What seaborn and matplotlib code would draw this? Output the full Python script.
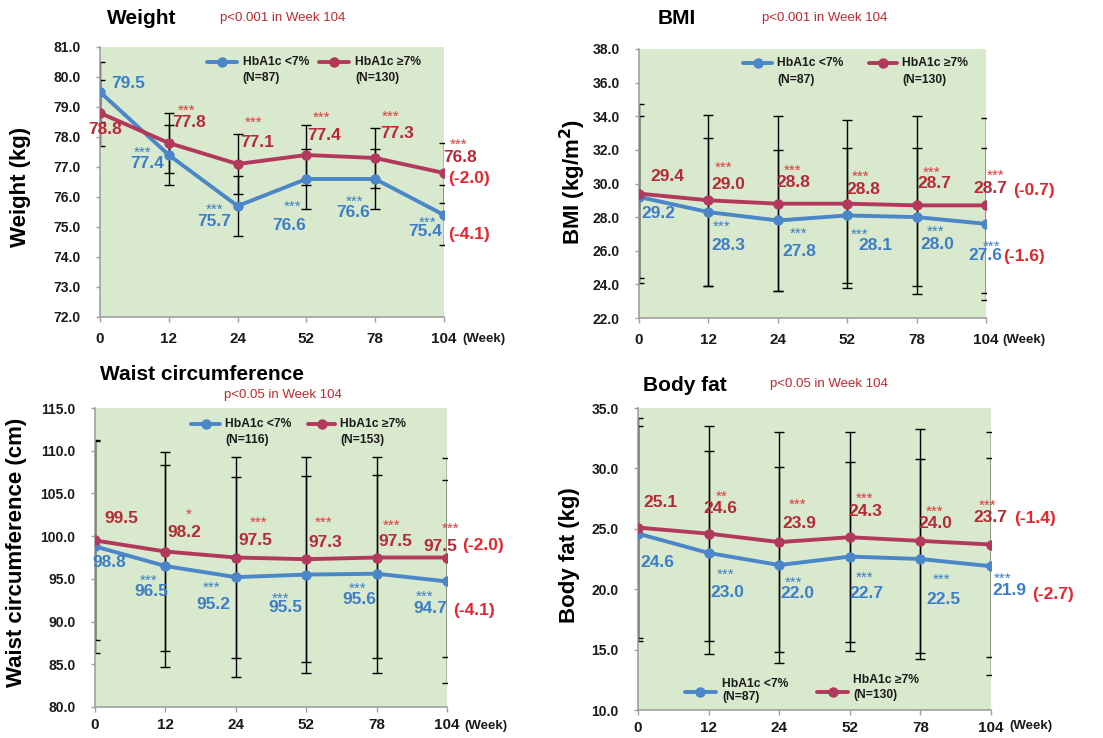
import numpy as np
import pandas as pd
import matplotlib
matplotlib.use("Agg")
import matplotlib.pyplot as plt
import seaborn as sns

sns.set_theme(style="white")
plt.rcParams['font.family'] = ['Liberation Sans', 'DejaVu Sans']

# ---------------- data ----------------
weeks = ["0", "12", "24", "52", "78", "104"]
group_lo = "HbA1c <7%"
group_hi = "HbA1c \u22657%"

weight_lo = [79.5, 77.4, 75.7, 76.6, 76.6, 75.4]
weight_hi = [78.8, 77.8, 77.1, 77.4, 77.3, 76.8]
weight_lo_err = [1.0, 1.0, 1.0, 1.0, 1.0, 1.0]
weight_hi_err = [1.1, 1.0, 1.0, 1.0, 1.0, 1.0]
weight_lo_stars = ["", "***", "***", "***", "***", "***"]
weight_hi_stars = ["", "***", "***", "***", "***", "***"]
weight_change = ["(-4.1)", "(-2.0)"]
weight_n = ["(N=87)", "(N=130)"]

bmi_lo = [29.2, 28.3, 27.8, 28.1, 28.0, 27.6]
bmi_hi = [29.4, 29.0, 28.8, 28.8, 28.7, 28.7]
bmi_lo_err = [4.8, 4.4, 4.2, 4.0, 4.1, 4.5]
bmi_hi_err = [5.3, 5.1, 5.2, 5.0, 5.3, 5.2]
bmi_lo_stars = ["", "***", "***", "***", "***", "***"]
bmi_hi_stars = ["", "***", "***", "***", "***", "***"]
bmi_change = ["(-1.6)", "(-0.7)"]
bmi_n = ["(N=87)", "(N=130)"]

waist_lo = [98.8, 96.5, 95.2, 95.5, 95.6, 94.7]
waist_hi = [99.5, 98.2, 97.5, 97.3, 97.5, 97.5]
waist_lo_err = [12.5, 11.8, 11.7, 11.5, 11.6, 11.9]
waist_hi_err = [11.6, 11.6, 11.8, 12.0, 11.8, 11.7]
waist_lo_stars = ["", "***", "***", "***", "***", "***"]
waist_hi_stars = ["", "*", "***", "***", "***", "***"]
waist_change = ["(-4.1)", "(-2.0)"]
waist_n = ["(N=116)", "(N=153)"]

fat_lo = [24.6, 23.0, 22.0, 22.7, 22.5, 21.9]
fat_hi = [25.1, 24.6, 23.9, 24.3, 24.0, 23.7]
fat_lo_err = [8.9, 8.4, 8.1, 7.8, 8.3, 9.0]
fat_hi_err = [9.1, 8.9, 9.1, 8.7, 9.3, 9.3]
fat_lo_stars = ["", "***", "***", "***", "***", "***"]
fat_hi_stars = ["", "**", "***", "***", "***", "***"]
fat_change = ["(-2.7)", "(-1.4)"]
fat_n = ["(N=87)", "(N=130)"]

titles = ["Weight", "BMI", "Waist circumference", "Body fat"]
pvalues = ["p<0.001 in Week 104", "p<0.001 in Week 104", "p<0.05 in Week 104", "p<0.05 in Week 104"]
ylabels = ["Weight (kg)", "BMI (kg/m$^\\mathbf{2}$)", "Waist circumference (cm)", "Body fat (kg)"]

# ---------------- style ----------------
C_LINE_LO = "#4a86c8"
C_LINE_HI = "#b2395c"
C_TXT_LO = "#3d7ec8"
C_TXT_HI = "#b52a36"
C_STAR_HI = "#e03a3e"
C_CHANGE = "#e6262c"
C_P = "#c0282e"
BG = "#d9e9cd"
SPINE = "#a0a0a0"

W, H = 1103, 738
fig = plt.figure(figsize=(W / 100, H / 100), dpi=100)

def ax_rect(l, t, r, b):
    return [l / W, 1 - b / H, (r - l) / W, (b - t) / H]

panels = [
    dict(rect=ax_rect(100, 47, 444, 317), lo=weight_lo, hi=weight_hi, lo_err=weight_lo_err, hi_err=weight_hi_err,
         lo_st=weight_lo_stars, hi_st=weight_hi_stars, change=weight_change, n=weight_n,
         ylim=(72, 81), yticks=np.arange(72, 81.01, 1.0),
         lo_off=[(28, -9), (-22, 9), (-23, 15), (-17, 46), (-22, 33), (-19, 16)],
         hi_off=[(5, 16), (20, -21), (20, -22), (18, -19), (22, -25), (16, -16)],
         lo_soff=[None, (-26, -7), (-23, -1), (-14, 23), (-21, 18), (-16, 3)],
         hi_soff=[None, (18, -37), (16, -46), (15, -42), (15, -46), (15, -33)],
         ch_off=[(25, 19), (25, 5)],
         leg=dict(lo=(0.31, 0.397, 0.944, 0.415), hi=(0.638, 0.725, 0.944, 0.742), y2=0.885, below=True),
         title=(107, 18), p=(220, 18), ylab=(21, 187), week=(18, -22), xpad=7),
    dict(rect=ax_rect(639, 49, 986, 318), lo=bmi_lo, hi=bmi_hi, lo_err=bmi_lo_err, hi_err=bmi_hi_err,
         lo_st=bmi_lo_stars, hi_st=bmi_hi_stars, change=bmi_change, n=bmi_n,
         ylim=(22, 38), yticks=np.arange(22, 38.01, 2.0),
         lo_off=[(19, 17), (20, 33), (22, 31), (28, 30), (21, 27), (-1, 32)],
         hi_off=[(28, -17), (20, -16), (16, -21), (16, -14), (18, -22), (4, -17)],
         lo_soff=[None, (13, 10), (21, 8), (12, 14), (19, 10), (6, 18)],
         hi_soff=[None, (15, -38), (15, -38), (13, -32), (15, -38), (10, -35)],
         ch_off=[(38, 33), (48, -15)],
         leg=dict(lo=(0.30, 0.383, 0.948, 0.398), hi=(0.663, 0.744, 0.948, 0.758), y2=0.885, below=True),
         title=(658, 18), p=(762, 18), ylab=(573, 182), week=(16, -22), xpad=7),
    dict(rect=ax_rect(95, 408, 447, 707), lo=waist_lo, hi=waist_hi, lo_err=waist_lo_err, hi_err=waist_hi_err,
         lo_st=waist_lo_stars, hi_st=waist_hi_stars, change=waist_change, n=waist_n,
         ylim=(80, 115), yticks=np.arange(80, 115.01, 5.0),
         lo_off=[(14, 16), (-14, 25), (-22, 27), (-21, 33), (-17, 26), (-17, 27)],
         hi_off=[(26, -22), (19, -19), (20, -17), (19, -17), (19, -16), (-7, -11)],
         lo_soff=[None, (-17, 10), (-24, 6), (-26, 19), (-19, 10), (-22, 10)],
         hi_soff=[None, (23, -42), (23, -40), (17, -41), (15, -37), (4, -34)],
         ch_off=[(27, 29), (36, -12)],
         leg=dict(lo=(0.273, 0.355, 0.946, 0.369), hi=(0.605, 0.682, 0.946, 0.696), y2=0.893, below=True),
         title=(100, 374), p=(224, 395), ylab=(17, 552), week=(17, -19), xpad=4.5),
    dict(rect=ax_rect(638, 408, 991, 710), lo=fat_lo, hi=fat_hi, lo_err=fat_lo_err, hi_err=fat_hi_err,
         lo_st=fat_lo_stars, hi_st=fat_hi_stars, change=fat_change, n=fat_n,
         ylim=(10, 35), yticks=np.arange(10, 35.01, 5.0),
         lo_off=[(19, 29), (19, 40), (18, 28), (17, 37), (23, 40), (18, 24)],
         hi_off=[(22, -25), (12, -25), (20, -19), (16, -26), (15, -17), (-1, -27)],
         lo_soff=[None, (17, 17), (14, 13), (15, 16), (21, 16), (12, 8)],
         hi_soff=[None, (13, -42), (18, -42), (15, -43), (14, -34), (-3, -44)],
         ch_off=[(62, 28), (44, -26)],
         leg=dict(lo=(0.133, 0.221, 0.059, 0.238), hi=(0.507, 0.595, 0.059, 0.610),
                  y1=(0.086, 0.099), y2=(0.043, 0.050), below=False),
         title=(643, 386), p=(770, 384), ylab=(570, 555), week=(18, -16), xpad=4.5),
]

pos = np.arange(len(weeks))

for k, P in enumerate(panels):
    ax = fig.add_axes(P["rect"])
    ax.set_facecolor(BG)

    # error bars
    ax.errorbar(pos, P["hi"], yerr=P["hi_err"], fmt="none", ecolor="black", elinewidth=1.0,
                capsize=3.5, capthick=1.0, zorder=2)
    ax.errorbar(pos, P["lo"], yerr=P["lo_err"], fmt="none", ecolor="black", elinewidth=1.0,
                capsize=3.5, capthick=1.0, zorder=2)

    df = pd.DataFrame({
        "pos": np.concatenate([pos, pos]),
        "value": list(P["lo"]) + list(P["hi"]),
        "group": [group_lo] * len(pos) + [group_hi] * len(pos),
    })
    sns.lineplot(data=df, x="pos", y="value", hue="group",
                 palette={group_lo: C_LINE_LO, group_hi: C_LINE_HI},
                 marker="o", markersize=7.5, markeredgewidth=0, linewidth=2.8,
                 legend=False, sort=False, errorbar=None, ax=ax, zorder=3)

    ax.set_xlim(0, len(weeks) - 1)
    ax.set_ylim(*P["ylim"])
    ax.set_xticks(pos)
    ax.set_xticklabels(weeks)
    ax.set_yticks(P["yticks"])
    ax.set_yticklabels([f"{v:.1f}" for v in P["yticks"]])
    ax.set_xlabel("")
    ax.set_ylabel("")
    for s in ["top", "right"]:
        ax.spines[s].set_visible(False)
    for s in ["left", "bottom"]:
        ax.spines[s].set_color(SPINE)
        ax.spines[s].set_linewidth(1.2)
    ax.tick_params(axis="y", direction="out", length=3, width=1, color=SPINE, pad=11,
                   labelsize=10, labelcolor="#1a1a1a", left=True)
    ax.tick_params(axis="x", direction="out", length=3.5, width=1, color=SPINE, pad=P["xpad"],
                   labelsize=11, labelcolor="#1a1a1a", bottom=True)
    for t in ax.get_xticklabels() + ax.get_yticklabels():
        t.set_fontweight("bold")

    # value labels
    for i in range(len(weeks)):
        dx, dy = P["lo_off"][i]
        ax.annotate(f"{P['lo'][i]:.1f}", xy=(pos[i], P["lo"][i]), xytext=(dx, -dy),
                    textcoords="offset pixels", ha="center", va="center",
                    fontsize=12.5, fontweight="bold", color=C_TXT_LO, zorder=5)
        dx, dy = P["hi_off"][i]
        ax.annotate(f"{P['hi'][i]:.1f}", xy=(pos[i], P["hi"][i]), xytext=(dx, -dy),
                    textcoords="offset pixels", ha="center", va="center",
                    fontsize=12.5, fontweight="bold", color=C_TXT_HI, zorder=5)
        if P["lo_st"][i]:
            sx, sy = P["lo_soff"][i]
            ax.annotate(P["lo_st"][i], xy=(pos[i], P["lo"][i]), xytext=(sx, -sy - 9),
                        textcoords="offset pixels", ha="center", va="baseline",
                        fontsize=11, color=C_TXT_LO, zorder=5)
        if P["hi_st"][i]:
            sx, sy = P["hi_soff"][i]
            ax.annotate(P["hi_st"][i], xy=(pos[i], P["hi"][i]), xytext=(sx, -sy - 9),
                        textcoords="offset pixels", ha="center", va="baseline",
                        fontsize=11, color=C_STAR_HI, zorder=5)
    last = len(weeks) - 1
    for j, series in enumerate([P["lo"], P["hi"]]):
        dx, dy = P["ch_off"][j]
        ax.annotate(P["change"][j], xy=(pos[last], series[last]), xytext=(dx, -dy),
                    textcoords="offset pixels", ha="center", va="center",
                    fontsize=12.5, fontweight="bold", color=C_CHANGE, annotation_clip=False, zorder=5)

    # legend (manual, handle aligned with first line)
    L = P["leg"]
    for j, (key, col, name) in enumerate([("lo", C_LINE_LO, group_lo), ("hi", C_LINE_HI, group_hi)]):
        x0, x1, yh, xt = L[key]
        ax.plot([x0, (x0 + x1) / 2, x1], [yh, yh, yh], color=col, linewidth=2.8,
                marker="o", markevery=[1], markersize=7.5, markeredgewidth=0,
                transform=ax.transAxes, clip_on=False, zorder=6)
        if L["below"]:
            y1, y2 = yh, L["y2"]
        else:
            y1, y2 = L["y1"][j], L["y2"][j]
        ax.text(xt, y1, name, transform=ax.transAxes, ha="left", va="center",
                fontsize=8.7, fontweight="bold", color="#1a1a1a", zorder=6)
        ax.text(xt, y2, P["n"][j], transform=ax.transAxes, ha="left", va="center",
                fontsize=8.7, fontweight="bold", color="#1a1a1a", zorder=6)

    # week unit
    wdx, wdy = P["week"]
    ax.annotate("(Week)", xy=(1, 0), xycoords="axes fraction", xytext=(wdx, wdy),
                textcoords="offset pixels", ha="left", va="center", fontsize=9.5,
                fontweight="bold", color="#1a1a1a", annotation_clip=False)

    # titles and labels
    tx, ty = P["title"]
    fig.text(tx / W, 1 - ty / H, titles[k], ha="left", va="center", fontsize=15,
             fontweight="bold", color="black")
    px, py = P["p"]
    fig.text(px / W, 1 - py / H, pvalues[k], ha="left", va="center", fontsize=9.5, color=C_P)
    lx, ly = P["ylab"]
    fig.text(lx / W, 1 - ly / H, ylabels[k], ha="center", va="center", rotation=90,
             fontsize=16, fontweight="bold", color="black")

fig.savefig("out.png", dpi=100, facecolor="white")
